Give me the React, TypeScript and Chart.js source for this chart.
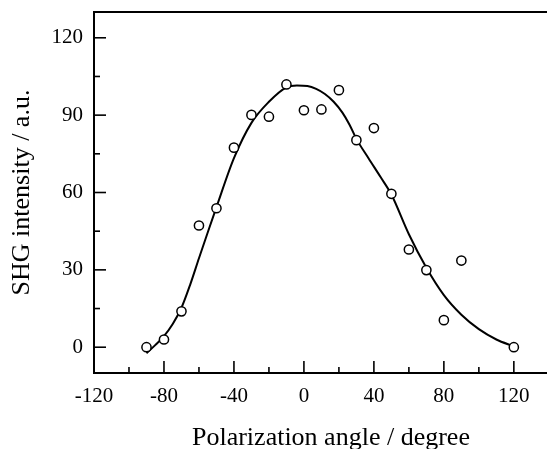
import React, { useEffect, useRef } from "react";
import { Chart, registerables } from "chart.js";

Chart.register(...registerables);

// Measured data points
const angles = [-90, -80, -70, -60, -50, -40, -30, -20, -10, 0, 10, 20, 30, 40, 50, 60, 70, 80, 90, 120];
const intensities = [0, 3, 13.9, 47.2, 53.9, 77.4, 90.1, 89.4, 101.9, 91.9, 92.2, 99.7, 80.3, 85, 59.5, 37.9, 29.9, 10.5, 33.6, 0];

// Fitted curve
const fitAngles = [-90, -85, -80, -75, -70, -65, -60, -55, -50, -40, -30, -20, -10, -4, 2, 7, 12, 17, 22, 26, 30, 37, 44, 50, 60, 70, 80, 90, 100, 110, 120];
const fitValues = [-2.3, 0.8, 4.3, 9, 15.3, 24.3, 34.5, 44.5, 54.3, 73.3, 87, 95.2, 100.8, 101.5, 101.3, 100.2, 98.2, 95.2, 91, 86.4, 80.8, 73.2, 65.8, 59.2, 43.8, 30.8, 20.2, 12.6, 7, 3, 0.3];

// Axis ticks
const xMajorTicks = [-80, -40, 0, 40, 80, 120];
const xMinorTicks = [-100, -60, -20, 20, 60, 100, 140];
const yMajorTicks = [0, 30, 60, 90, 120];
const yMinorTicks = [15, 45, 75, 105];

const xTitle = "Polarization angle / degree";
const yTitle = "SHG intensity / a.u.";

const FONT = "'Liberation Serif', 'Times New Roman', serif";

const framePlugin = {
  id: "frame",
  afterDraw(chart: any) {
    const { ctx, chartArea } = chart;
    const xs = chart.scales.x;
    const ys = chart.scales.y;
    ctx.save();
    ctx.strokeStyle = "#000";
    // top border
    ctx.lineWidth = 2;
    ctx.beginPath();
    ctx.moveTo(chartArea.left - 1, chartArea.top);
    ctx.lineTo(chartArea.right, chartArea.top);
    ctx.stroke();
    // inward ticks
    ctx.lineWidth = 1.6;
    const drawX = (vals: number[], len: number) => {
      for (const v of vals) {
        const px = xs.getPixelForValue(v);
        if (px < chartArea.left || px > chartArea.right + 1) continue;
        ctx.beginPath();
        ctx.moveTo(px, chartArea.bottom);
        ctx.lineTo(px, chartArea.bottom - len);
        ctx.stroke();
      }
    };
    const drawY = (vals: number[], len: number) => {
      for (const v of vals) {
        const py = ys.getPixelForValue(v);
        ctx.beginPath();
        ctx.moveTo(chartArea.left, py);
        ctx.lineTo(chartArea.left + len, py);
        ctx.stroke();
      }
    };
    drawX(xMajorTicks, 12);
    drawX(xMinorTicks, 6);
    drawY(yMajorTicks, 12);
    drawY(yMinorTicks, 6);
    ctx.restore();
  },
};

export default function App() {
  const ref = useRef<HTMLCanvasElement | null>(null);

  useEffect(() => {
    if (!ref.current) return;
    const chart = new Chart(ref.current, {
      type: "scatter",
      data: {
        datasets: [
          {
            data: angles.map((a, i) => ({ x: a, y: intensities[i] })),
            showLine: false,
            pointRadius: 4.6,
            pointBorderWidth: 1.5,
            pointBorderColor: "#000",
            pointBackgroundColor: "#fff",
          },
          {
            data: fitAngles.map((a, i) => ({ x: a, y: fitValues[i] })),
            showLine: true,
            pointRadius: 0,
            borderColor: "#000",
            borderWidth: 2,
            cubicInterpolationMode: "monotone",
          },
        ],
      } as any,
      options: {
        animation: false,
        responsive: false,
        devicePixelRatio: 1,
        layout: { padding: { top: 12, left: 0, right: 0, bottom: 0 } },
        plugins: { legend: { display: false }, tooltip: { enabled: false } },
        scales: {
          x: {
            type: "linear",
            min: -120,
            max: 150.9,
            grid: { display: false, drawTicks: false },
            border: { display: true, color: "#000", width: 2 },
            ticks: {
              stepSize: 40,
              includeBounds: false,
              color: "#000",
              padding: 11,
              maxRotation: 0,
              font: { family: FONT, size: 21 },
            },
            title: {
              display: true,
              text: xTitle,
              color: "#000",
              font: { family: FONT, size: 26 },
              padding: { top: 0, bottom: -5 },
            },
            afterFit(scale: any) {
              scale.height = 76;
              scale.paddingLeft = 0;
              scale.paddingRight = 0;
            },
          },
          y: {
            type: "linear",
            min: -10,
            max: 130,
            grid: { display: false, drawTicks: false },
            border: { display: true, color: "#000", width: 2 },
            ticks: {
              stepSize: 30,
              includeBounds: false,
              color: "#000",
              padding: 11,
              font: { family: FONT, size: 21 },
            },
            title: {
              display: true,
              text: yTitle,
              color: "#000",
              font: { family: FONT, size: 26 },
              padding: { top: 7, bottom: 0 },
            },
            afterFit(scale: any) {
              scale.width = 94;
              scale.paddingTop = 0;
              scale.paddingBottom = 0;
            },
          },
        },
      } as any,
      plugins: [framePlugin],
    });
    return () => chart.destroy();
  }, []);

  return (
    <div
      style={{
        position: "fixed",
        left: 0,
        top: 0,
        width: 547,
        height: 449,
        overflow: "hidden",
        background: "#fff",
      }}
    >
      <canvas ref={ref} width={574} height={449} style={{ display: "block" }} />
    </div>
  );
}
